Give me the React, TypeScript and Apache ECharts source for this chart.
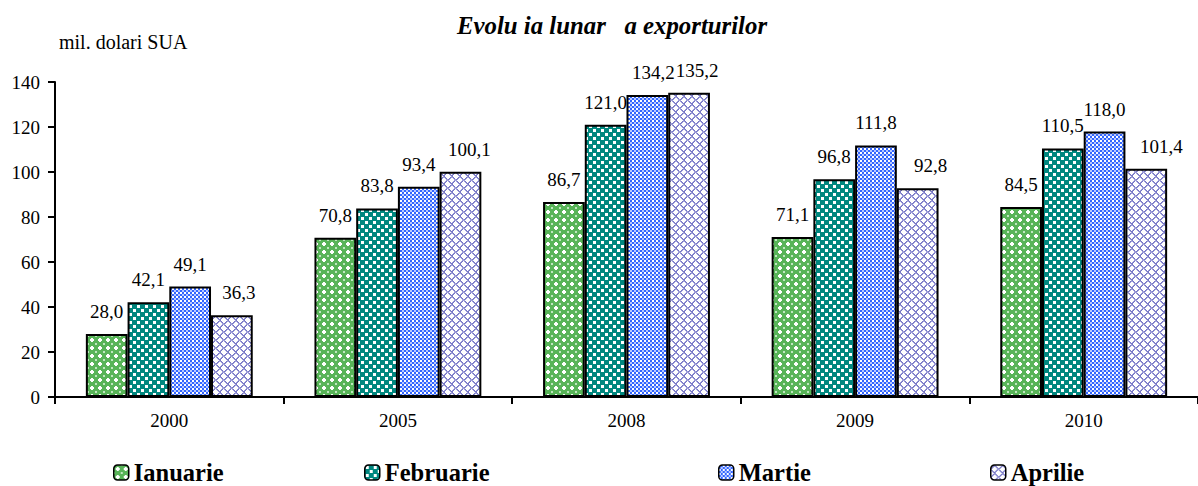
import React, { useEffect, useRef } from 'react';
import * as echarts from 'echarts';

const years = ['2000', '2005', '2008', '2009', '2010'];
const seriesNames = ['Ianuarie', 'Februarie', 'Martie', 'Aprilie'];
const ianuarie = [28.0, 70.8, 86.7, 71.1, 84.5];
const februarie = [42.1, 83.8, 121.0, 96.8, 110.5];
const martie = [49.1, 93.4, 134.2, 111.8, 118.0];
const aprilie = [36.3, 100.1, 135.2, 92.8, 101.4];
const yMin = 0;
const yMax = 140;
const yStep = 20;
const titleText = 'Evolu ia lunar   a exporturilor';
const unitText = 'mil. dolari SUA';

const FONT = 'Liberation Serif, serif';

// horizontal nudges of the value labels (styling only), per series per category
const labelNudge = [
  [0, 0, 0, 0, 0],
  [0, 0, 0, 0, 0],
  [0, 0, 6, 0, 0],
  [7, 9, 8, 13, 15],
];

function tile(size: number, draw: (ctx: CanvasRenderingContext2D) => void) {
  const c = document.createElement('canvas');
  c.width = size;
  c.height = size;
  const ctx = c.getContext('2d') as CanvasRenderingContext2D;
  draw(ctx);
  return c;
}

function makePatterns() {
  const green = tile(8, (ctx) => {
    ctx.fillStyle = '#58b458';
    ctx.fillRect(0, 0, 8, 8);
    ctx.fillStyle = '#ffffff';
    ctx.fillRect(3, 2, 2, 4);
    ctx.fillRect(2, 3, 4, 2);
    ctx.fillStyle = '#bfe6bf';
    ctx.fillRect(0, 0, 1, 1);
    ctx.fillRect(7, 7, 1, 1);
    ctx.fillRect(7, 0, 1, 1);
    ctx.fillRect(0, 7, 1, 1);
  });
  const teal = tile(8, (ctx) => {
    ctx.fillStyle = '#00877f';
    ctx.fillRect(0, 0, 8, 8);
    ctx.fillStyle = '#ffffff';
    ctx.fillRect(1, 1, 3, 3);
    ctx.fillRect(5, 5, 3, 3);
  });
  const blue = tile(4, (ctx) => {
    ctx.fillStyle = '#3366ff';
    ctx.fillRect(0, 0, 4, 4);
    ctx.fillStyle = '#ffffff';
    ctx.fillRect(0, 0, 2, 2);
    ctx.fillStyle = '#b8c9ff';
    ctx.fillRect(2, 2, 2, 2);
  });
  const purple = tile(8, (ctx) => {
    ctx.fillStyle = '#ffffff';
    ctx.fillRect(0, 0, 8, 8);
    ctx.fillStyle = '#7474c4';
    for (let k = 0; k < 4; k++) {
      ctx.fillRect(k, 3 - k, 1, 1);
      ctx.fillRect(4 + k, k, 1, 1);
      ctx.fillRect(k, 4 + k, 1, 1);
      ctx.fillRect(4 + k, 7 - k, 1, 1);
    }
    ctx.fillStyle = '#9c9cd8';
    for (let k = 0; k < 4; k++) {
      ctx.fillRect(k, (4 - k) % 8, 1, 1);
      ctx.fillRect(4 + k, (k + 1) % 8, 1, 1);
      ctx.fillRect(k, (5 + k) % 8, 1, 1);
      ctx.fillRect(4 + k, (6 - k + 8) % 8, 1, 1);
    }
  });
  return [green, teal, blue, purple].map((c) => ({ image: c, repeat: 'repeat' }));
}

const fmt = (v: number) => v.toFixed(1).replace('.', ',');

export default function App() {
  const ref = useRef<HTMLDivElement>(null);
  useEffect(() => {
    if (!ref.current) return;
    const chart = echarts.init(ref.current, undefined, { renderer: 'svg' });
    const patterns = makePatterns();
    const dataSets = [ianuarie, februarie, martie, aprilie];
    const legendLeft = [113, 364, 718, 990];
    const option: any = {
      animation: false,
      backgroundColor: '#ffffff',
      textStyle: { fontFamily: FONT },
      grid: { left: 55, top: 82, width: 1152, height: 315, containLabel: false },
      xAxis: {
        type: 'category',
        data: years,
        axisLine: { lineStyle: { color: '#000', width: 2 } },
        axisTick: { show: true, length: 7, lineStyle: { color: '#000', width: 2 } },
        axisLabel: { color: '#000', fontSize: 19, fontFamily: FONT, margin: 14 },
        splitLine: { show: false },
      },
      yAxis: {
        type: 'value',
        min: yMin,
        max: yMax,
        interval: yStep,
        axisLine: { show: true, lineStyle: { color: '#000', width: 2 } },
        axisTick: { show: true, length: 7, lineStyle: { color: '#000', width: 2 } },
        axisLabel: { color: '#000', fontSize: 19, fontFamily: FONT, margin: 15 },
        splitLine: { show: false },
      },
      legend: seriesNames.map((n, i) => ({
        data: [n],
        left: legendLeft[i],
        top: 460,
        padding: 0,
        itemWidth: 15,
        itemHeight: 15,
        itemGap: 0,
        selectedMode: false,
        itemStyle: { borderColor: '#000', borderWidth: 1.5 },
        textStyle: { fontFamily: FONT, fontWeight: 'bold', fontSize: 24.5, color: '#000' },
      })),
      graphic: [
        {
          type: 'text',
          left: 457,
          top: 13,
          style: {
            text: titleText,
            fontFamily: FONT,
            fontSize: 24.8,
            fontWeight: 'bold',
            fontStyle: 'italic',
            fill: '#000',
          },
        },
        {
          type: 'text',
          left: 59,
          top: 32,
          style: { text: unitText, fontFamily: FONT, fontSize: 20, fill: '#000' },
        },
      ],
      series: seriesNames.map((n, i) => ({
        name: n,
        type: 'bar',
        data: dataSets[i].map((v, j) => ({
          value: v,
          label: { offset: [labelNudge[i][j], 0] },
        })),
        barGap: '0%',
        barCategoryGap: '27%',
        itemStyle: { color: patterns[i], borderColor: '#000', borderWidth: 2 },
        label: {
          show: true,
          position: 'top',
          distance: 13,
          color: '#000',
          fontSize: 19,
          fontFamily: FONT,
          formatter: (p: any) => fmt(p.value),
        },
      })),
    };
    chart.setOption(option);
    return () => chart.dispose();
  }, []);
  return (
    <div
      ref={ref}
      style={{ position: 'fixed', left: 0, top: 0, width: 1198, height: 486, background: '#fff' }}
    />
  );
}
